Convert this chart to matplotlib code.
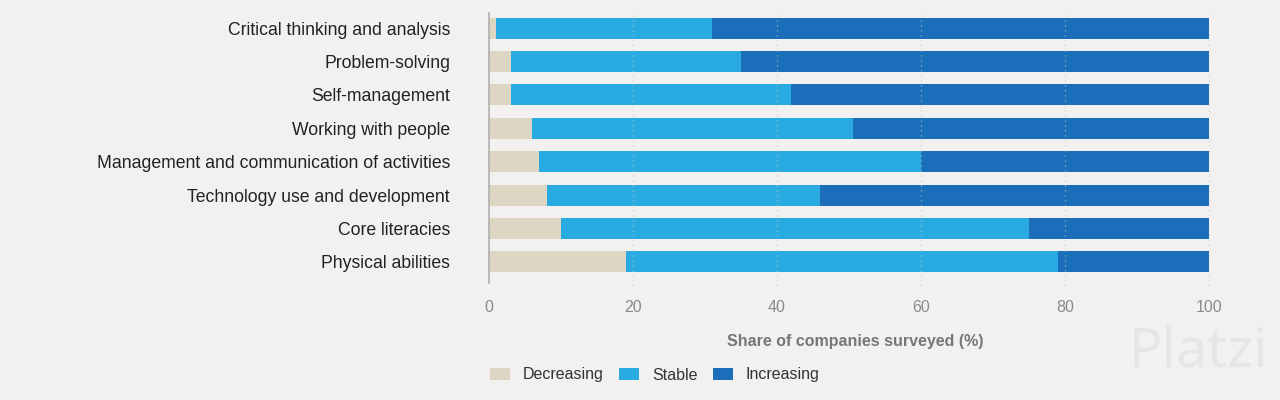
import numpy as np
import matplotlib.pyplot as plt

# Skills and share of companies (%) for each outlook
skills = [
    "Critical thinking and analysis",
    "Problem-solving",
    "Self-management",
    "Working with people",
    "Management and communication of activities",
    "Technology use and development",
    "Core literacies",
    "Physical abilities",
]
decreasing = [1, 3, 3, 6, 7, 8, 10, 19]
stable = [30, 32, 39, 44.5, 53, 38, 65, 60]
increasing = [69, 65, 58, 49.5, 40, 54, 25, 21]

colors = {"Decreasing": "#dcd6c2", "Stable": "#29abe2", "Increasing": "#1b6fba"}
bg = "#f2f1ef"

plt.rcParams["font.family"] = ["Liberation Sans", "DejaVu Sans"]

fig = plt.figure(figsize=(12.8, 4), dpi=100, facecolor=bg)
ax = fig.add_axes([489 / 1280, 1 - 283 / 400, 720 / 1280, 270 / 400])
ax.set_facecolor(bg)

y = np.arange(len(skills))
dec = np.array(decreasing)
sta = np.array(stable)
inc = np.array(increasing)
h = 0.63
ax.barh(y, dec, height=h, color=colors["Decreasing"], label="Decreasing")
ax.barh(y, sta, left=dec, height=h, color=colors["Stable"], label="Stable")
ax.barh(y, inc, left=dec + sta, height=h, color=colors["Increasing"], label="Increasing")

ax.set_xlim(0, 100)
ax.set_ylim(7.63, -0.45)
ax.set_yticks(y)
ax.set_yticklabels(skills, fontsize=12.7, color="#222222")
ax.set_xticks([0, 20, 40, 60, 80, 100])
ax.tick_params(axis="x", length=0, pad=12, labelsize=11.5, labelcolor="#8a8a8a")
ax.tick_params(axis="y", length=0, pad=28)

# dotted gridlines drawn faintly over the bars
for x in [20, 40, 60, 80, 100]:
    ax.axvline(x, color="#c8c8c8", linestyle=(0, (1, 3)), linewidth=0.9, alpha=0.7,
               zorder=3, clip_on=False, ymax=1.0, ymin=-0.01)

for s in ["top", "right", "bottom"]:
    ax.spines[s].set_visible(False)
ax.spines["left"].set_color("#b0b0b0")
ax.spines["left"].set_linewidth(1.2)

ax.set_xlabel("Share of companies surveyed (%)", fontsize=11.5, fontweight="bold",
              color="#777777", labelpad=14)
ax.xaxis.label.set_x(0.508)

leg = fig.legend(loc="center left", bbox_to_anchor=(476 / 1280, 1 - 375 / 400), ncol=3,
                 frameon=False, fontsize=11.5, handlelength=1.25, handleheight=0.7,
                 columnspacing=0.95, handletextpad=0.8)
for t in leg.get_texts():
    t.set_color("#333333")

# faint watermark
fig.text(1198 / 1280, 1 - 352 / 400, "Platzi", fontsize=40, color="#e6e6e4",
         ha="center", va="center", family="Noto Sans", zorder=0)

fig.savefig("out.png", dpi=100, facecolor=bg)
